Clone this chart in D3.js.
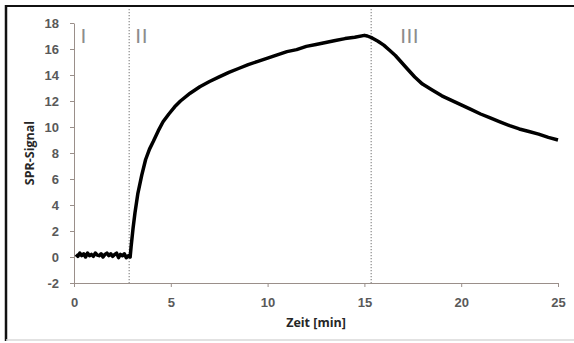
<!DOCTYPE html>
<html lang="de">
  <head>
    <meta charset="UTF-8" />
    <title>SPR-Signal</title>
    <script src="https://d3js.org/d3.v7.min.js"></script>
    <style>
      body {
        margin: 0;
        background: #ffffff;
        font-family: "Open Sans", sans-serif;
      }
      .tick text {
        font-size: 13px;
        font-weight: 600;
        fill: #595959;
      }
      .title {
        font-size: 12.5px;
        font-weight: 700;
        fill: #262626;
      }
      .phase {
        font-family: "Liberation Sans", sans-serif;
        font-size: 21px;
        fill: #8c8c8c;
        letter-spacing: 0.5px;
      }
    </style>
  </head>
  <body>
    <svg id="chart" width="574" height="343"></svg>

    <script>
      // Zeit [min]
      const zeit = [
        0.1, 0.2, 0.3, 0.4, 0.5, 0.6, 0.7, 0.8, 0.9, 1.0, 1.1, 1.2, 1.3, 1.4, 1.5, 1.6, 1.7, 1.8, 1.9, 2.0,
        2.1, 2.2, 2.3, 2.4, 2.5, 2.6, 2.7, 2.8, 2.9,
        2.95, 3.05, 3.15, 3.3, 3.5, 3.7, 3.9, 4.1, 4.35, 4.6, 4.9, 5.2, 5.5, 6.0, 6.5, 7.0, 7.5, 8.0, 8.5, 9.0,
        9.5, 10.0, 10.5, 11.0, 11.5, 12.0, 12.5, 13.0, 13.5, 14.0, 14.5, 15.0, 15.15, 15.4, 15.7, 16.0, 16.3, 16.6,
        16.9, 17.2, 17.6, 18.0, 18.5, 19.0, 19.5, 20.0, 20.5, 21.0, 21.5, 22.0, 22.5, 23.0, 23.5, 24.0, 24.5, 25.0,
      ];
      // SPR-Signal
      const signal = [
        0.2, 0.05, 0.3, 0.1, 0.25, 0.0, 0.3, 0.1, 0.2, 0.05, 0.3, 0.15, 0.1, 0.25, 0.0, 0.2, 0.3, 0.1, 0.25, 0.05,
        0.2, 0.3, -0.05, 0.2, 0.1, 0.25, -0.05, 0.1, 0.0,
        0.8, 2.2, 3.4, 4.9, 6.3, 7.5, 8.3, 8.9, 9.7, 10.4, 11.0, 11.55, 12.0, 12.6, 13.1, 13.5, 13.85, 14.2, 14.5, 14.8,
        15.05, 15.3, 15.55, 15.8, 15.95, 16.2, 16.35, 16.5, 16.65, 16.8, 16.9, 17.05, 17.0, 16.85, 16.6, 16.3, 15.9, 15.5,
        15.0, 14.5, 13.85, 13.3, 12.85, 12.4, 12.05, 11.7, 11.35, 11.0, 10.7, 10.4, 10.1, 9.85, 9.65, 9.45, 9.2, 9.0,
      ];
      const xTicks = [0, 5, 10, 15, 20, 25];
      const yTicks = [-2, 0, 2, 4, 6, 8, 10, 12, 14, 16, 18];
      const phaseGrenzen = [2.85, 15.35];
      const phasen = [
        {label: "I", t: 0.34},
        {label: "II", t: 3.17},
        {label: "III", t: 16.85},
      ];

      const svg = d3.select("#chart");
      const x = d3.scaleLinear().domain([0, 25]).range([74, 558]);
      const y = d3.scaleLinear().domain([-2, 18]).range([283, 23]);
      const axisColor = "#9a8f8a";

      // frame
      svg.append("line").attr("x1", 6).attr("x2", 6).attr("y1", 5).attr("y2", 341)
        .attr("stroke", "#111").attr("stroke-width", 2.5);
      svg.append("line").attr("x1", 5).attr("x2", 574).attr("y1", 6).attr("y2", 6)
        .attr("stroke", "#111").attr("stroke-width", 2);
      svg.append("line").attr("x1", 6).attr("x2", 574).attr("y1", 340).attr("y2", 340)
        .attr("stroke", "#d8d8d8").attr("stroke-width", 1.5);

      // axes
      const yAxis = svg.append("g")
        .attr("transform", `translate(${x(0)},0)`)
        .call(d3.axisLeft(y).tickValues(yTicks).tickFormat((d) => String(d))
          .tickSize(4).tickPadding(11).tickSizeOuter(0));
      const xAxis = svg.append("g")
        .attr("transform", `translate(0,${y(-2)})`)
        .call(d3.axisBottom(x).tickValues(xTicks).tickSize(4).tickPadding(11).tickSizeOuter(0));
      [xAxis, yAxis].forEach((g) => {
        g.select(".domain").attr("stroke", axisColor);
        g.selectAll(".tick line").attr("stroke", axisColor);
      });

      // phase boundaries
      svg.selectAll(".grenze")
        .data(phaseGrenzen)
        .join("line")
        .attr("class", "grenze")
        .attr("x1", (d) => x(d)).attr("x2", (d) => x(d))
        .attr("y1", 9).attr("y2", y(-2))
        .attr("stroke", "#8a8a8a")
        .attr("stroke-width", 1.2)
        .attr("stroke-dasharray", "1.2,1.8");

      svg.selectAll(".phase")
        .data(phasen)
        .join("text")
        .attr("class", "phase")
        .attr("x", (d) => x(d.t))
        .attr("y", 43)
        .text((d) => d.label);

      // curve
      const pts = zeit.map((t, i) => [t, signal[i]]);
      svg.append("path")
        .datum(pts)
        .attr("fill", "none")
        .attr("stroke", "#000")
        .attr("stroke-width", 3.5)
        .attr("stroke-linejoin", "round")
        .attr("d", d3.line().x((d) => x(d[0])).y((d) => y(d[1])));

      svg.append("text")
        .attr("class", "title")
        .attr("transform", `translate(34,${(y(18) + y(-2)) / 2}) rotate(-90)`)
        .attr("text-anchor", "middle")
        .text("SPR-Signal");
      svg.append("text")
        .attr("class", "title")
        .attr("x", (x(0) + x(25)) / 2)
        .attr("y", 327)
        .attr("text-anchor", "middle")
        .text("Zeit [min]");
    </script>
  </body>
</html>
